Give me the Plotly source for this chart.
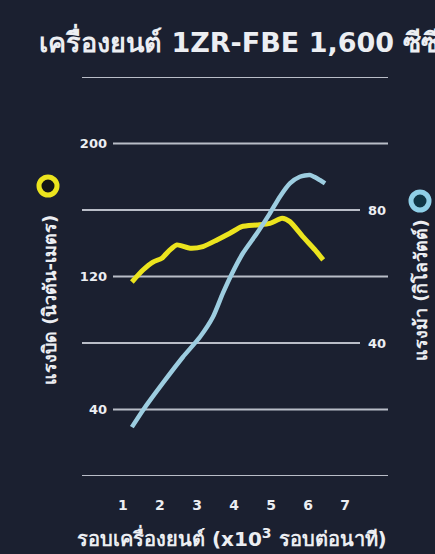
import plotly.graph_objects as go

# ---- data ----
rpm_torque = [1.24, 1.54, 1.81, 2.05, 2.27, 2.46, 2.81, 3.16, 3.54, 3.89, 4.21, 4.62, 4.97, 5.30, 5.51, 5.86, 6.19, 6.41]
torque_nm = [116.7, 123.9, 128.7, 131, 136, 139, 137, 138, 142, 146, 150, 151, 152, 155, 153, 144, 136, 130]

rpm_power = [1.24, 1.54, 2.08, 2.62, 3.08, 3.43, 3.70, 3.95, 4.24, 4.62, 4.97, 5.24, 5.51, 5.78, 6.05, 6.32, 6.46]
power_kw = [14.7, 19.8, 28, 35.8, 41.8, 47.8, 55, 61, 67, 73, 79, 84, 88, 90, 90.5, 89, 88]

x_ticks = [1, 2, 3, 4, 5, 6, 7]
left_ticks = [40, 120, 200]
right_ticks = [40, 80]
left_grid = [0, 40, 80, 120, 160, 200, 240]

title_text = "เครื่องยนต์ 1ZR-FBE 1,600 ซีซี"
left_title = "แรงบิด (นิวตัน-เมตร)"
right_title = "แรงม้า (กิโลวัตต์)"
x_title = "รอบเครื่องยนต์ (x10<sup>3</sup> รอบต่อนาที)"

# ---- style ----
BG = "#1b2030"
YELLOW = "#ece41e"
BLUE = "#9dcde0"
GRID = "#b9bdc7"
TXT = "#eceef2"
FONT = "DejaVu Sans"

W, H = 435, 554
ML, MR, MT, MB = 113, 75, 77, 78
PW = W - ML - MR
PH = H - MT - MB


def px_x(p):
    return (p - ML) / PW


def px_y(p):
    return (H - MB - p) / PH


fig = go.Figure()
fig.add_trace(go.Scatter(x=rpm_power, y=power_kw, mode="lines", yaxis="y2",
                         line=dict(color=BLUE, width=4.5, shape="spline", smoothing=0.6),
                         showlegend=False, hoverinfo="skip"))
fig.add_trace(go.Scatter(x=rpm_torque, y=torque_nm, mode="lines", yaxis="y",
                         line=dict(color=YELLOW, width=5, shape="spline", smoothing=0.6),
                         showlegend=False, hoverinfo="skip"))

shapes = []
for v in left_grid:
    x0 = 0.0 if v in left_ticks else px_x(82)
    x1 = 1.0 if (v / 2) in right_ticks else px_x(388)
    shapes.append(dict(type="line", xref="paper", yref="y", x0=x0, x1=x1, y0=v, y1=v,
                       line=dict(color=GRID, width=2), layer="below"))

# legend-like ring markers
for cx, cy, col, inner in [(48, 186, YELLOW, "#151515"), (420, 201, "#8fd0e8", "#0f3646")]:
    shapes.append(dict(type="circle", xref="paper", yref="paper",
                       xsizemode="pixel", ysizemode="pixel",
                       xanchor=px_x(cx), yanchor=px_y(cy),
                       x0=-9, x1=9, y0=-9, y1=9,
                       fillcolor=inner, line=dict(color=col, width=5)))

annotations = [
    dict(text=title_text, xref="paper", yref="paper", x=px_x(37), y=px_y(40),
         xanchor="left", yanchor="middle", showarrow=False,
         font=dict(family=FONT, size=27, color=TXT, weight="bold")),
    dict(text=left_title, xref="paper", yref="paper", x=px_x(49), y=px_y(300),
         xanchor="center", yanchor="middle", showarrow=False, textangle=-90,
         font=dict(family=FONT, size=18, color=TXT, weight="bold")),
    dict(text=right_title, xref="paper", yref="paper", x=px_x(420), y=px_y(290),
         xanchor="center", yanchor="middle", showarrow=False, textangle=-90,
         font=dict(family=FONT, size=18, color=TXT, weight="bold")),
    dict(text=x_title, xref="paper", yref="paper", x=px_x(232), y=px_y(537),
         xanchor="center", yanchor="middle", showarrow=False,
         font=dict(family=FONT, size=20, color=TXT, weight="bold")),
]

fig.update_layout(
    width=W, height=H,
    margin=dict(l=ML, r=MR, t=MT, b=MB, pad=0),
    paper_bgcolor=BG, plot_bgcolor=BG,
    showlegend=False,
    shapes=shapes,
    annotations=annotations,
    xaxis=dict(range=[0.73, 7.405], tickvals=x_ticks, ticktext=[str(t) for t in x_ticks],
               showgrid=False, zeroline=False, showline=False, ticks="",
               ticklabelstandoff=19,
               tickfont=dict(family=FONT, size=14, color=TXT, weight="bold")),
    yaxis=dict(range=[0, 240], tickvals=left_ticks, ticktext=[str(t) for t in left_ticks],
               showgrid=False, zeroline=False, showline=False, ticks="",
               ticklabelstandoff=5,
               tickfont=dict(family=FONT, size=13, color=TXT, weight="bold")),
    yaxis2=dict(range=[0, 120], overlaying="y", side="right",
                tickvals=right_ticks, ticktext=[str(t) for t in right_ticks],
                showgrid=False, zeroline=False, showline=False, ticks="",
                ticklabelstandoff=7,
                tickfont=dict(family=FONT, size=13, color=TXT, weight="bold")),
)

fig.write_html("out.html", config={"displayModeBar": False},
               post_script="document.body.style.margin='0';document.body.style.overflow='hidden';")
